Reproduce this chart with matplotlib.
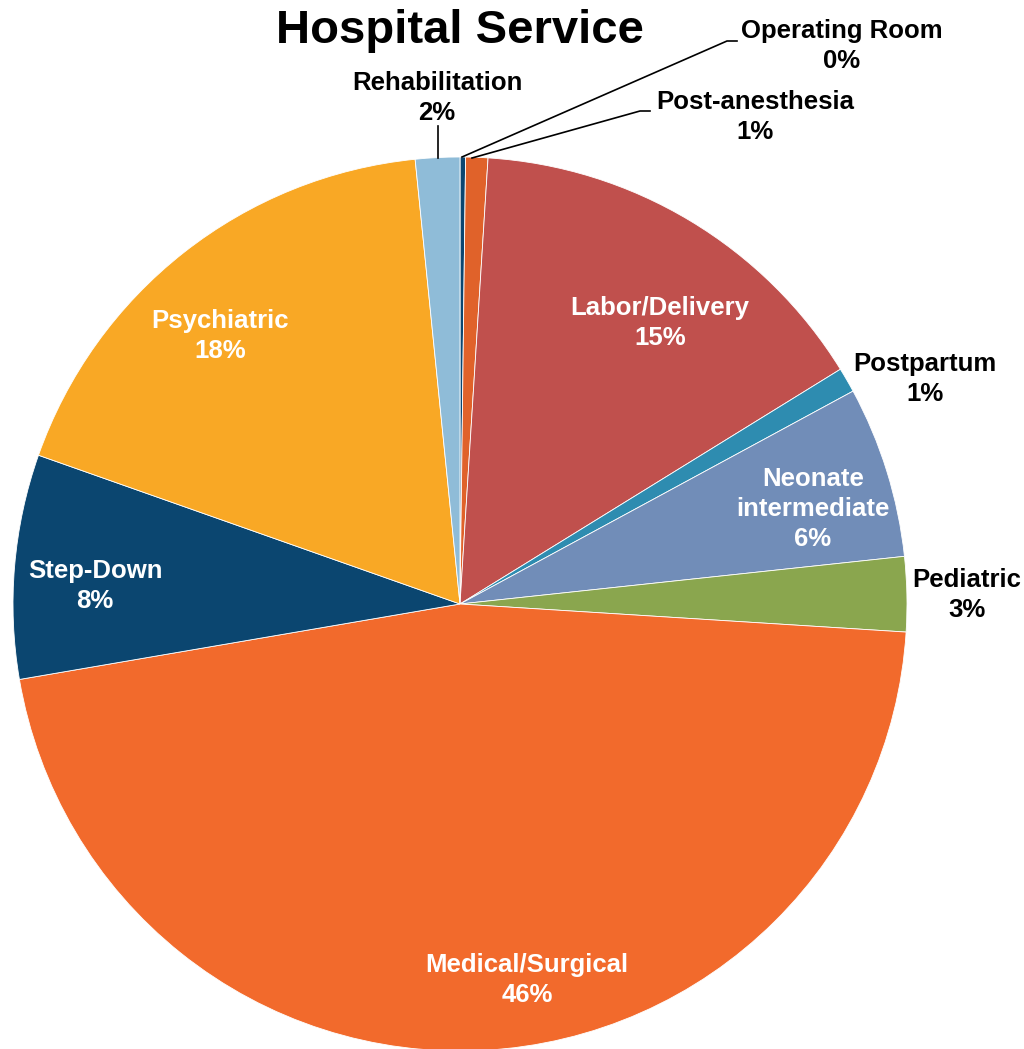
import numpy as np
import matplotlib.pyplot as plt

plt.rcParams['font.family'] = ['Liberation Sans', 'DejaVu Sans']

# data, clockwise from 12 o'clock
services = ["Operating Room", "Post-anesthesia", "Labor/Delivery", "Postpartum",
            "Neonate\nintermediate", "Pediatric", "Medical/Surgical", "Step-Down",
            "Psychiatric", "Rehabilitation"]
shares = [0.2, 0.8, 15.2, 0.9, 6.2, 2.7, 46.3, 8.1, 18.0, 1.6]
pct_labels = ["0%", "1%", "15%", "1%", "6%", "3%", "46%", "8%", "18%", "2%"]
colors = ["#0b4670", "#e0622a", "#c0504d", "#2e8cb0", "#718db8", "#8aa64e",
          "#f26a2c", "#0b4670", "#f9a825", "#8fbcd8"]

W, H = 1024, 1049
fig = plt.figure(figsize=(W / 100, H / 100), dpi=100)
ax = fig.add_axes([0, 0, 1, 1])

cx, cy, r = 460, H - 604, 447
ax.pie(shares, colors=colors, startangle=90, counterclock=False,
       center=(cx, cy), radius=r, frame=True,
       wedgeprops=dict(edgecolor="white", linewidth=0.6))
ax.set_xlim(0, W)
ax.set_ylim(0, H)
ax.set_aspect("equal")
ax.axis("off")

# label positions in pixels (x, y from top)
label_pos = {
    "Operating Room": (842, 46),
    "Post-anesthesia": (755, 117),
    "Labor/Delivery": (660, 323),
    "Postpartum": (925, 379),
    "Neonate\nintermediate": (813, 509),
    "Pediatric": (967, 595),
    "Medical/Surgical": (527, 980),
    "Step-Down": (95, 586),
    "Psychiatric": (220, 336),
    "Rehabilitation": (437, 98),
}
inside = {"Labor/Delivery", "Neonate\nintermediate", "Medical/Surgical",
          "Step-Down", "Psychiatric"}

for name, pct in zip(services, pct_labels):
    x, y = label_pos[name]
    ax.text(x, H - y, f"{name}\n{pct}", ha="center", va="center",
            fontsize=18.5, fontweight="bold", linespacing=1.3,
            color="white" if name in inside else "black")

# leader lines
ax.plot([462, 727, 737], [H - 157, H - 41, H - 41], color="black", lw=1.2)
ax.plot([472, 640, 650], [H - 158, H - 111, H - 111], color="black", lw=1.2)
ax.plot([438, 438], [H - 158, H - 126], color="black", lw=1.2)

ax.text(460, H - 31, "Hospital Service", ha="center", va="center",
        fontsize=34, fontweight="bold")

fig.savefig("out.png", dpi=100)
